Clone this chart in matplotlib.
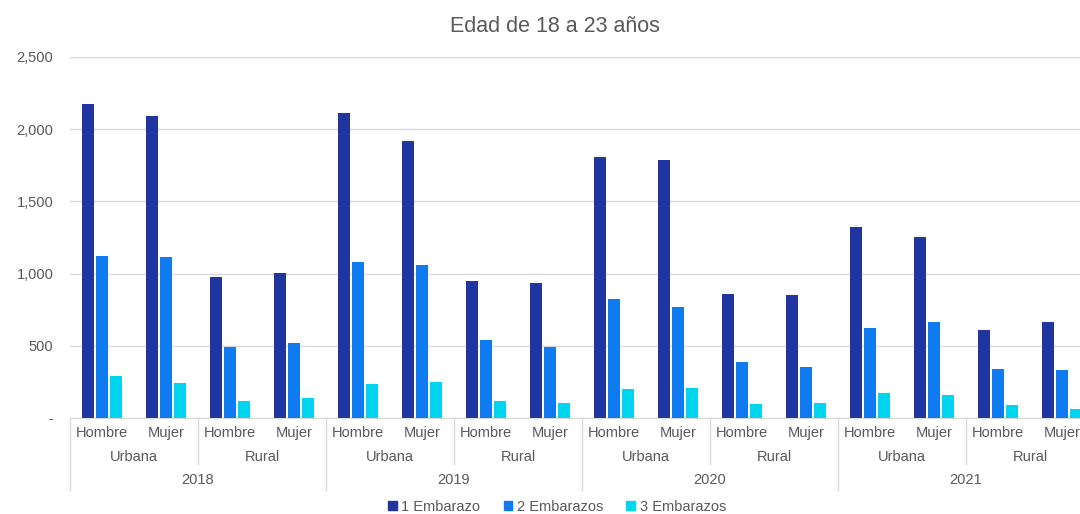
import numpy as np
import matplotlib.pyplot as plt
from matplotlib.patches import Patch
from matplotlib.ticker import FuncFormatter

plt.rcParams['font.family'] = ['Liberation Sans', 'DejaVu Sans']

# Datos
years = ['2018', '2019', '2020', '2021']
areas = ['Urbana', 'Rural']
sexes = ['Hombre', 'Mujer']
series_names = ['1 Embarazo', '2 Embarazos', '3 Embarazos']

embarazo_1 = [2175, 2090, 975, 1005, 2112, 1918, 948, 935,
              1810, 1787, 859, 853, 1323, 1253, 610, 665]
embarazo_2 = [1123, 1115, 492, 519, 1080, 1062, 540, 492,
              825, 768, 390, 355, 622, 663, 339, 330]
embarazo_3 = [291, 242, 118, 138, 235, 249, 118, 106,
              200, 210, 97, 105, 173, 160, 90, 62]

colors = ['#2035A0', '#0F7BF0', '#00D5F0']
text_color = '#595959'
line_color = '#D9D9D9'

fig = plt.figure(figsize=(10.8, 5.14), dpi=100)
ax = fig.add_axes([70 / 1080, 1 - 418 / 514, 1024 / 1080, 361 / 514])

n = len(embarazo_1)
centers = np.arange(n) + 0.5
offset = 14 / 64
width = 12 / 64
for k, vals in enumerate([embarazo_1, embarazo_2, embarazo_3]):
    ax.bar(centers + (k - 1) * offset, vals, width=width, color=colors[k], zorder=3)

ax.set_xlim(0, n)
ax.set_ylim(0, 2500)
ax.set_yticks(np.arange(0, 2501, 500))
ax.yaxis.set_major_formatter(FuncFormatter(lambda v, p: '-' if v == 0 else f'{int(v):,}'))
ax.tick_params(axis='y', length=0, pad=12, labelsize=10.5, labelcolor=text_color)
ax.set_xticks([])
ax.grid(axis='y', color=line_color, linewidth=1, zorder=0)
for s in ['left', 'top', 'right']:
    ax.spines[s].set_visible(False)
ax.spines['bottom'].set_color(line_color)

# etiquetas de categorias en tres niveles
tr = ax.get_xaxis_transform()
h = 361.0
y1 = -15 / h
y2 = -39 / h
y3 = -62 / h
for i in range(n):
    ax.text(centers[i], y1, sexes[i % 2], transform=tr, ha='center', va='center',
            fontsize=10.5, color=text_color)
for j in range(n // 2):
    ax.text(j * 2 + 1, y2, areas[j % 2], transform=tr, ha='center', va='center',
            fontsize=10.5, color=text_color)
for j in range(len(years)):
    ax.text(j * 4 + 2, y3, years[j], transform=tr, ha='center', va='center',
            fontsize=10.5, color=text_color)

for b in range(0, n + 1, 2):
    bottom = -72 / h if b % 4 == 0 else -46 / h
    ax.plot([b, b], [0, bottom], transform=tr, color=line_color, linewidth=1,
            clip_on=False)

fig.text(555 / 1080, 1 - 27 / 514, 'Edad de 18 a 23 años', ha='center', va='center',
         fontsize=15.5, color=text_color)

handles = [Patch(color=c) for c in colors]
fig.legend(handles, series_names, loc='center', bbox_to_anchor=(557 / 1080, 7 / 514),
           ncol=3, frameon=False, fontsize=10.5, labelcolor=text_color,
           handlelength=0.6, handleheight=0.6, handletextpad=0.3, columnspacing=1.6)

fig.savefig('out.png', dpi=100)
